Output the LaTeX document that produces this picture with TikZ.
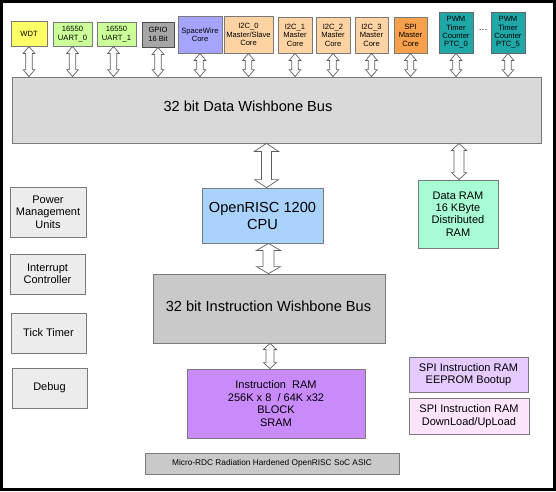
\documentclass[tikz,border=0pt]{standalone}
\usepackage{fontspec}
\setmainfont{Liberation Sans}
\usetikzlibrary{calc}
\definecolor{cwdt}{HTML}{FFFF66}
\definecolor{cuart}{HTML}{CCFF99}
\definecolor{cgpio}{HTML}{A6A6A6}
\definecolor{cspw}{HTML}{A5A5FF}
\definecolor{ci2c}{HTML}{FDD3A4}
\definecolor{cspi}{HTML}{F7A14C}
\definecolor{cptc}{HTML}{20A7A7}
\definecolor{cdbus}{HTML}{D9D9D9}
\definecolor{ccpu}{HTML}{A9D3FC}
\definecolor{cdram}{HTML}{A8FCD4}
\definecolor{cibus}{HTML}{C9C9C9}
\definecolor{ciram}{HTML}{C98BFC}
\definecolor{cspie}{HTML}{E5CBFF}
\definecolor{cspid}{HTML}{FDE4FD}
\definecolor{cleft}{HTML}{ECECEC}
\definecolor{bordgray}{HTML}{7A7A7A}
\definecolor{arrgray}{HTML}{606060}
\begin{document}
\begin{tikzpicture}[x=1pt,y=-1pt,
  box/.style={draw=bordgray, line width=0.8pt, inner sep=0pt, align=center, text=black},
  topfont/.style={font=\fontsize{7.6}{8.4}\selectfont},
  midfont/.style={font=\fontsize{11}{12.4}\selectfont},
  bigfont/.style={font=\fontsize{14.6}{17}\selectfont},
  blockarrow/.style n args={3}{draw=arrgray, fill=white, line width=0.7pt,
    to path={let \p1=(\tikztostart),\p2=(\tikztotarget) in
      (\x1,\y1) -- (\x1+#2,\y1-#3) -- (\x1+#1,\y1-#3) -- (\x1+#1,\y2+#3) -- (\x1+#2,\y2+#3)
      -- (\x1,\y2) -- (\x1-#2,\y2+#3) -- (\x1-#1,\y2+#3) -- (\x1-#1,\y1-#3) -- (\x1-#2,\y1-#3) -- cycle}},
  smallarrow/.style={blockarrow={3.3pt}{5.8pt}{7pt}},
]
\useasboundingbox (0,0) rectangle (556,491);
\fill[white] (0,0) rectangle (556,491);

% top peripherals
\node[box, topfont, fill=cwdt, minimum width=36pt, minimum height=25pt] (wdt) at (29,33.5) {WDT};
\node[box, topfont, fill=cuart, minimum width=39pt, minimum height=24pt] (uart0) at (72.5,34) {16550\\UART\_0};
\node[box, topfont, fill=cuart, minimum width=39pt, minimum height=24pt] (uart1) at (116.5,34) {16550\\UART\_1};
\node[box, topfont, fill=cgpio, draw=black!70, minimum width=32pt, minimum height=25pt] (gpio) at (158,34.5) {GPIO\\16 Bit};
\node[box, topfont, fill=cspw, minimum width=44pt, minimum height=37pt] (spw) at (200,34.5) {SpaceWire\\Core};
\node[box, topfont, fill=ci2c, minimum width=49pt, minimum height=37pt] (i2c0) at (248.5,34.5) {I2C\_0\\Master/Slave\\Core};
\node[box, topfont, fill=ci2c, minimum width=34pt, minimum height=36pt] (i2c1) at (295,35) {I2C\_1\\Master\\Core};
\node[box, topfont, fill=ci2c, minimum width=34pt, minimum height=36pt] (i2c2) at (333,35) {I2C\_2\\Master\\Core};
\node[box, topfont, fill=ci2c, minimum width=33pt, minimum height=36pt] (i2c3) at (371.5,35) {I2C\_3\\Master\\Core};
\node[box, topfont, fill=cspi, minimum width=33pt, minimum height=36pt] (spim) at (410.5,35) {SPI\\Master\\Core};
\node[box, topfont, fill=cptc, draw=black!60, minimum width=34pt, minimum height=41pt] (ptc0) at (456,32.5) {PWM\\Timer\\Counter\\PTC\_0};
\node[font=\fontsize{9}{9}\selectfont, inner sep=0pt] (dots) at (483,30) {\dots};
\node[box, topfont, fill=cptc, draw=black!60, minimum width=34pt, minimum height=41pt] (ptc5) at (508,32.5) {PWM\\Timer\\Counter\\PTC\_5};

% data bus
\node[box, fill=cdbus, minimum width=529pt, minimum height=66pt] (dbus) at (276.5,110) {};
\node[bigfont, inner sep=0pt] (dbuslabel) at (248,106) {32 bit Data Wishbone Bus};

% cpu and rams
\node[box, bigfont, fill=ccpu, minimum width=121pt, minimum height=55pt] (cpu) at (262.5,215.5) {OpenRISC 1200\\CPU};
\node[box, midfont, fill=cdram, minimum width=80pt, minimum height=68pt] (dram) at (458,214) {Data RAM\\16 KByte\\Distributed\\RAM};

% left column
\node[box, midfont, fill=cleft, minimum width=76pt, minimum height=50pt] (pmu) at (48,212) {Power\\Management\\Units};
\node[box, midfont, fill=cleft, minimum width=75pt, minimum height=40pt] (intc) at (47.5,274) {Interrupt\\Controller};
\node[box, midfont, fill=cleft, minimum width=75pt, minimum height=40pt] (tick) at (48.5,333) {Tick Timer};
\node[box, midfont, fill=cleft, minimum width=75pt, minimum height=40pt] (debug) at (49.5,388) {Debug};

% instruction side
\node[box, fill=cibus, minimum width=232pt, minimum height=69pt] (ibus) at (269,308.5) {};
\node[bigfont, inner sep=0pt] (ibuslabel) at (268.5,306) {32 bit Instruction Wishbone Bus};
\node[box, midfont, fill=ciram, minimum width=178pt, minimum height=69pt] (iram) at (276,403.5) {Instruction\ \ RAM\\256K x 8\ \ / 64K x32\\BLOCK\\SRAM};
\node[box, midfont, fill=cspie, minimum width=119pt, minimum height=35pt] (spie) at (468.5,374.5) {SPI Instruction RAM\\EEPROM Bootup};
\node[box, midfont, fill=cspid, minimum width=120pt, minimum height=36pt] (spid) at (469,416) {SPI Instruction RAM\\DownLoad/UpLoad};
\node[box, font=\fontsize{8.3}{9}\selectfont, fill=cibus, minimum width=254pt, minimum height=21pt] (footer) at (272,463.5) {Micro-RDC Radiation Hardened OpenRISC SoC ASIC};

% connectors
\foreach \nm in {wdt,uart0,gpio,spw,i2c0,i2c1,i2c2,i2c3,spim,ptc0,ptc5}
  \draw[smallarrow] (\nm.south) to (\nm.south |- dbus.north);
\draw[smallarrow] ([xshift=-3pt]uart1.south) to ([xshift=-3pt]uart1.south |- dbus.north);
\coordinate (cpux) at ([xshift=4pt]cpu.north);
\coordinate (cpuy) at ([xshift=6pt]cpu.south);
\draw[blockarrow={5pt}{12pt}{8pt}] (cpux |- dbus.south) to (cpux);
\draw[blockarrow={5.5pt}{12pt}{7pt}] (cpuy) to (cpuy |- ibus.north);
\draw[blockarrow={5pt}{7.5pt}{7pt}] ([xshift=1pt]dram.north |- dbus.south) to ([xshift=1pt]dram.north);
\draw[blockarrow={4pt}{6.5pt}{6pt}] ([xshift=-6pt]iram.north |- ibus.south) to ([xshift=-6pt]iram.north);

% frame
\draw[line width=3pt] (1.5,1.5) rectangle (554.5,489.5);
\end{tikzpicture}
\end{document}
